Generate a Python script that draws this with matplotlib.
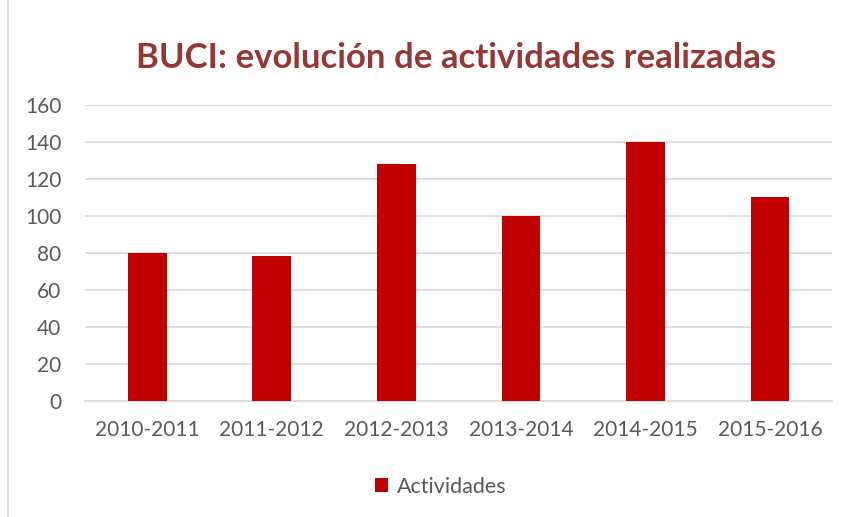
import matplotlib.pyplot as plt
from matplotlib.lines import Line2D

# datos
periodos = ['2010-2011', '2011-2012', '2012-2013', '2013-2014', '2014-2015', '2015-2016']
actividades = [80, 78, 128, 100, 140, 110]

plt.rcParams['font.family'] = ['Lato', 'DejaVu Sans']

fig = plt.figure(figsize=(8.5, 5.17), dpi=100)
ax = fig.add_axes([0.1, 0.225, 0.879, 0.5725])

ax.bar(range(len(periodos)), actividades, width=0.31, color='#c00000',
       label='Actividades', zorder=3)

ax.set_xlim(-0.5, len(periodos) - 0.5)
ax.set_ylim(0, 160)
ax.set_yticks(range(0, 161, 20))
ax.set_xticks(range(len(periodos)))
ax.set_xticklabels(periodos)
ax.yaxis.grid(True, color='#d9d9d9', lw=1.2, zorder=0)
ax.tick_params(axis='both', length=0, labelsize=15, colors='#595959')
ax.tick_params(axis='x', pad=14)
ax.tick_params(axis='y', pad=17)
for s in ['top', 'right', 'left']:
    ax.spines[s].set_visible(False)
ax.spines['bottom'].set_color('#d9d9d9')
ax.spines['bottom'].set_linewidth(1.2)

fig.text(0.537, 0.888, 'BUCI: evolución de actividades realizadas', ha='center',
         va='center', fontsize=25, fontweight='bold', color='#953735')

ax.legend(loc='center', bbox_to_anchor=(0.476, -0.29), frameon=False,
          fontsize=15.5, labelcolor='#595959', handlelength=0.6, handleheight=0.6,
          handletextpad=0.4)

# marco del grafico
fig.add_artist(Line2D([8 / 850, 8 / 850], [0, 1], color='#d9d9d9', lw=1.2))

fig.savefig('out.png')
